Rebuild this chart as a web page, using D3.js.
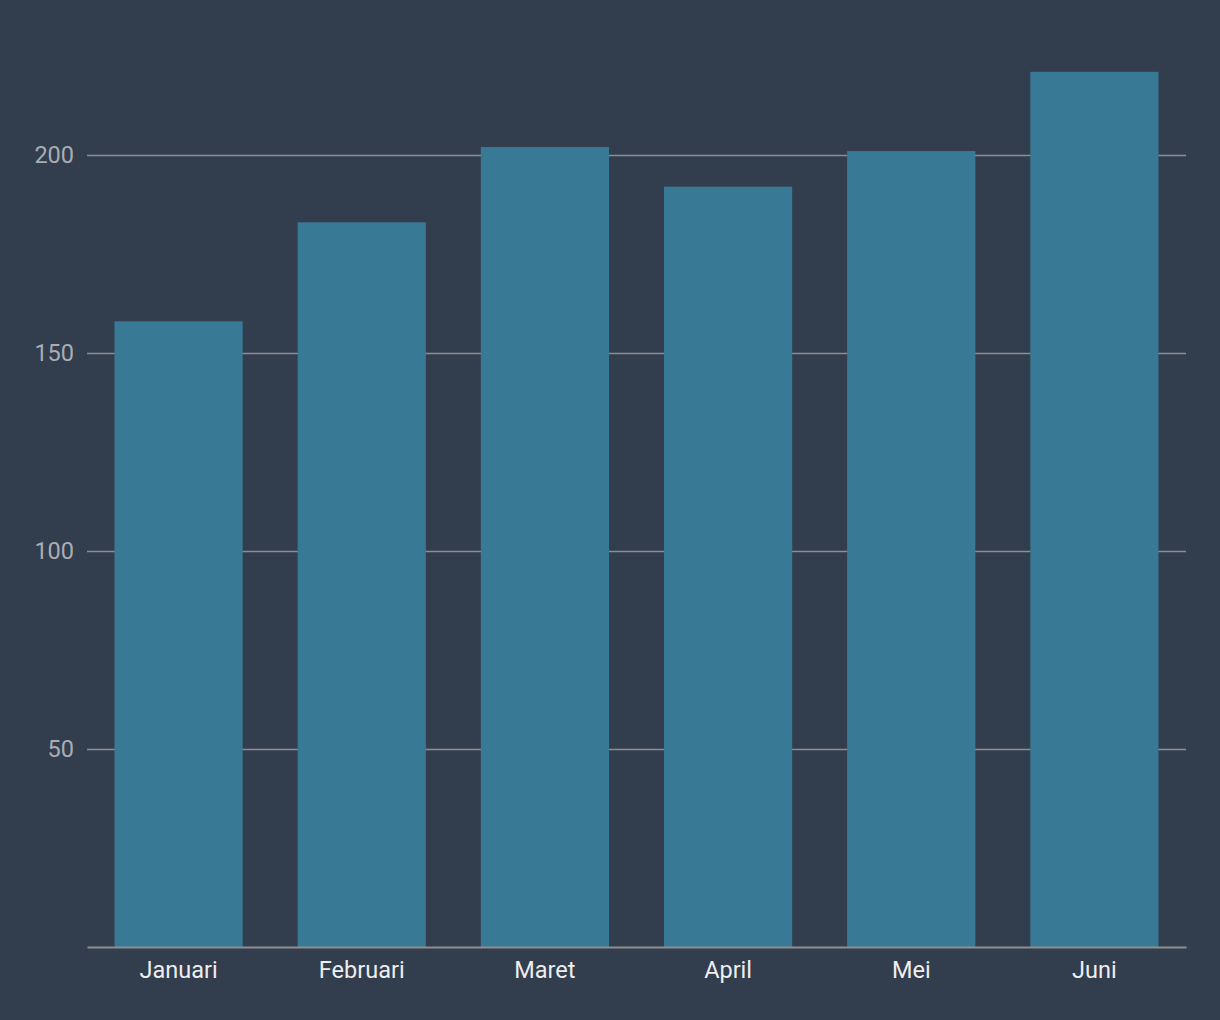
<!DOCTYPE html>
<html><head><meta charset="utf-8">
<script src="https://cdn.jsdelivr.net/npm/d3@7"></script>
<style>
html,body{margin:0;padding:0;background:#323d4e;}
svg{display:block;font-family:Roboto,sans-serif;}
</style></head>
<body>
<svg id="chart" width="1220" height="1020"></svg>
<script>
const categories = ["Januari","Februari","Maret","April","Mei","Juni"];
const values = [158, 183, 202, 192, 201, 221];
const yTicks = [50, 100, 150, 200];

const svg = d3.select("#chart");
const W = 1220, H = 1020;
svg.append("rect").attr("width", W).attr("height", H).attr("fill", "#323d4e");

const left = 87, right = 1186, bottom = 947;
const x = d3.scaleBand().domain(categories).range([left, right]).paddingInner(0.3).paddingOuter(0.15);
const y = d3.scaleLinear().domain([0, 200]).range([bottom, 155]);

// grid
const yAxis = svg.append("g").attr("transform", `translate(${left},0)`)
  .call(d3.axisLeft(y).tickValues(yTicks).tickSize(-(right-left)).tickPadding(13));
yAxis.select(".domain").remove();
yAxis.selectAll(".tick line").attr("stroke", "#8e8e8e").attr("stroke-width", 1.5);
yAxis.selectAll(".tick text").attr("fill", "#a9adb3").attr("font-size", 23.5).attr("font-family", "Roboto, sans-serif");

// bars
svg.append("g").selectAll("rect").data(values).join("rect")
  .attr("x", (d,i) => x(categories[i]))
  .attr("width", x.bandwidth())
  .attr("y", d => y(d))
  .attr("height", d => bottom - y(d))
  .attr("fill", "#387a96");

// x axis
const xAxis = svg.append("g").attr("transform", `translate(0,${bottom})`)
  .call(d3.axisBottom(x).tickSize(0).tickPadding(14).tickSizeOuter(0));
xAxis.select(".domain").attr("stroke", "#8e8e8e").attr("stroke-width", 2);
xAxis.selectAll(".tick text").attr("fill", "#eeeeee").attr("font-size", 23.5).attr("font-family", "Roboto, sans-serif");
</script>
</body></html>
